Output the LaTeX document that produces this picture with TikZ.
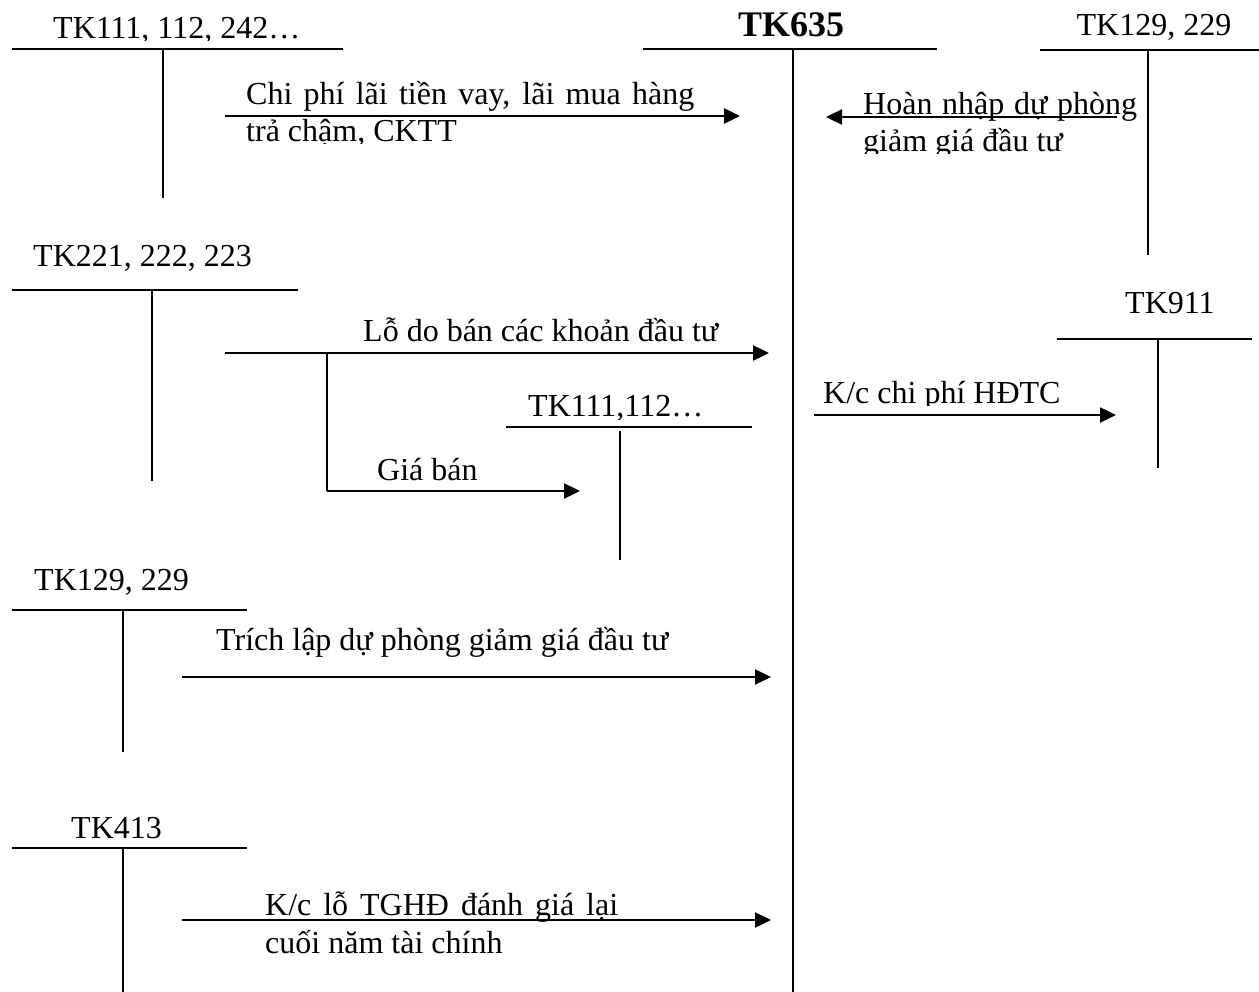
\documentclass[tikz,border=0pt]{standalone}
\usepackage{fontspec}
\setmainfont{Liberation Serif}
\usetikzlibrary{arrows.meta}
\begin{document}
\begin{tikzpicture}[x=1pt,y=-1pt,
  tline/.style={line width=2.2pt},
  vline/.style={line width=2pt},
  flow/.style={line width=2.4pt,-{Triangle[length=16pt,width=15pt]}},
  lbl/.style={inner sep=0pt,anchor=base west,font=\fontsize{32}{37}\selectfont},
  lblc/.style={inner sep=0pt,anchor=base,font=\fontsize{32}{37}\selectfont},
  ttl/.style={inner sep=0pt,anchor=base,font=\fontsize{36}{40}\selectfont\bfseries}]
\useasboundingbox (0,0) rectangle (1259,992);

% ---------- TK111, 112, 242...
\begin{scope}
\clip (40,0) rectangle (330,40.5);
\node[lbl] (tA) at (53,39) {TK111, 112, 242…};
\end{scope}
\coordinate (tAl) at (12,49); \coordinate (tAr) at (343,49);
\coordinate (tAt) at (163,49); \coordinate (tAb) at (163,198);
\draw[tline] (tAl) -- (tAr);
\draw[vline] (tAt) -- (tAb);

% ---------- TK635
\node[ttl] (t635) at (791,37) {TK635};
\coordinate (mL) at (643,49); \coordinate (mR) at (937,49);
\coordinate (mT) at (793,49); \coordinate (mB) at (793,992);
\draw[tline] (mL) -- (mR);
\draw[vline] (mT) -- (mB);

% ---------- TK129, 229 (top right)
\node[lblc] (tB) at (1154,36) {TK129, 229};
\coordinate (tBl) at (1040,50); \coordinate (tBr) at (1259,50);
\coordinate (tBt) at (1148,50); \coordinate (tBb) at (1148,255);
\draw[tline] (tBl) -- (tBr);
\draw[vline] (tBt) -- (tBb);

% arrow: chi phi lai tien vay
\coordinate (a1s) at (225,116); \coordinate (a1e) at (740,116);
\draw[flow] (a1s) -- (a1e);
\node[lbl] (a1t) at (246,105) {\makebox[448pt][s]{Chi phí lãi tiền vay, lãi mua hàng}};
\begin{scope}
\clip (230,110) rectangle (700,143.5);
\node[lbl] (a1u) at (246,142) {trả chậm, CKTT};
\end{scope}

% arrow: hoan nhap du phong
\coordinate (a2s) at (1117,117); \coordinate (a2e) at (826,117);
\node[lbl] (a2t) at (863,115) {\makebox[274pt][s]{Hoàn nhập dự phòng}};
\draw[flow] (a2s) -- (a2e);
\begin{scope}
\clip (840,120) rectangle (1140,153.5);
\node[lbl] (a2u) at (863,152) {giảm giá đầu tư};
\end{scope}

% ---------- TK221, 222, 223
\node[lbl] (tC) at (33,267) {TK221, 222, 223};
\coordinate (tCl) at (12,290); \coordinate (tCr) at (298,290);
\coordinate (tCt) at (152,290); \coordinate (tCb) at (152,481);
\draw[tline] (tCl) -- (tCr);
\draw[vline] (tCt) -- (tCb);

% arrow: lo do ban
\coordinate (a3s) at (225,353); \coordinate (a3e) at (769,353);
\draw[flow] (a3s) -- (a3e);
\node[lbl] (a3t) at (363,342) {Lỗ do bán các khoản đầu tư};
\coordinate (brT) at (327,353); \coordinate (brB) at (327,491);
\coordinate (a4e) at (580,491);
\draw[line width=2.2pt] (brT) -- (brB);
\draw[flow] (brB) -- (a4e);
\node[lbl] (a4t) at (377,480) {Giá bán};

% ---------- TK111,112...
\begin{scope}
\clip (500,380) rectangle (760,419);
\node[lbl] (tD) at (528,417) {TK111,112…};
\end{scope}
\coordinate (tDl) at (506,427); \coordinate (tDr) at (752,427);
\coordinate (tDt) at (620,431); \coordinate (tDb) at (620,560);
\draw[tline] (tDl) -- (tDr);
\draw[vline] (tDt) -- (tDb);

% ---------- TK911
\node[lbl] (tE) at (1125,314) {TK911};
\coordinate (tEl) at (1057,339); \coordinate (tEr) at (1252,339);
\coordinate (tEt) at (1158,339); \coordinate (tEb) at (1158,468);
\draw[tline] (tEl) -- (tEr);
\draw[vline] (tEt) -- (tEb);

% arrow: K/c chi phi HDTC
\coordinate (a5s) at (814,415); \coordinate (a5e) at (1116,415);
\draw[flow] (a5s) -- (a5e);
\begin{scope}
\clip (810,370) rectangle (1100,405.5);
\node[lbl] (a5t) at (823,403) {K/c chi phí HĐTC};
\end{scope}

% ---------- TK129, 229 (lower left)
\node[lbl] (tF) at (34,590) {TK129, 229};
\coordinate (tFl) at (12,610); \coordinate (tFr) at (247,610);
\coordinate (tFt) at (123,610); \coordinate (tFb) at (123,752);
\draw[tline] (tFl) -- (tFr);
\draw[vline] (tFt) -- (tFb);

% arrow: trich lap du phong
\coordinate (a6s) at (182,677); \coordinate (a6e) at (771,677);
\draw[flow] (a6s) -- (a6e);
\node[lbl] (a6t) at (216,650) {Trích lập dự phòng giảm giá đầu tư};

% ---------- TK413
\node[lbl] (tG) at (71,838) {TK413};
\coordinate (tGl) at (12,848); \coordinate (tGr) at (247,848);
\coordinate (tGt) at (123,848); \coordinate (tGb) at (123,992);
\draw[tline] (tGl) -- (tGr);
\draw[vline] (tGt) -- (tGb);

% arrow: K/c lo TGHD
\coordinate (a7s) at (182,920); \coordinate (a7e) at (771,920);
\node[lbl] (a7t) at (265,915) {\makebox[353pt][s]{K/c lỗ TGHĐ đánh giá lại}};
\draw[flow] (a7s) -- (a7e);
\node[lbl] (a7u) at (265,953) {cuối năm tài chính};
\end{tikzpicture}
\end{document}
